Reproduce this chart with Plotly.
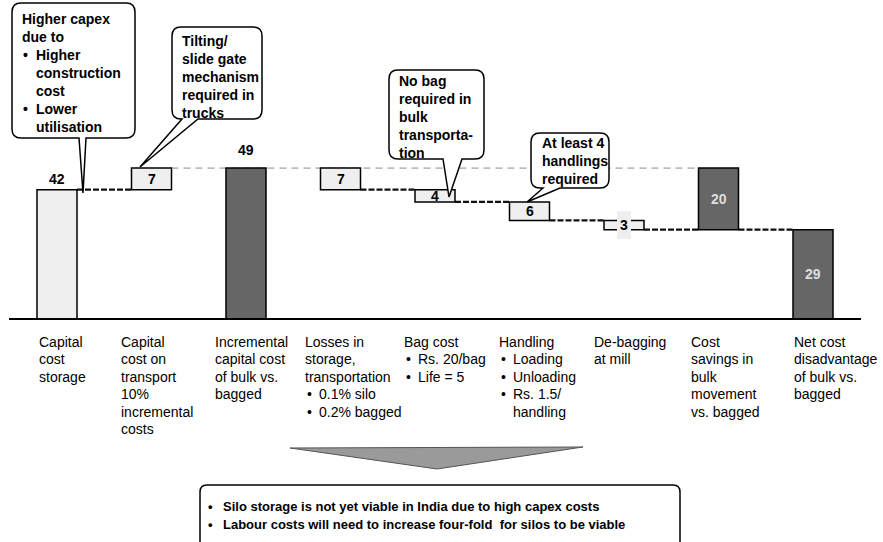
import plotly.graph_objects as go

W, H = 883, 542
FONT = "Liberation Sans, Arial, sans-serif"

# ---------------- data ----------------
categories = ["Capital cost storage", "Capital cost on transport", "Incremental capital cost",
              "Losses in storage", "Bag cost", "Handling", "De-bagging", "Cost savings", "Net cost"]
values = [42, 7, 49, -7, -4, -6, -3, 20, 29]
kinds = ["total", "delta", "total", "delta", "delta", "delta", "delta", "span", "total"]
shade = ["light", "light", "dark", "light", "light", "light", "light", "dark", "dark"]

axis_labels = [
    ["Capital", "cost", "storage"],
    ["Capital", "cost on", "transport", "10%", "incremental", "costs"],
    ["Incremental", "capital cost", "of bulk vs.", "bagged"],
    ["Losses in", "storage,", "transportation", "• 0.1% silo", "• 0.2% bagged"],
    ["Bag cost", "• Rs. 20/bag", "• Life = 5"],
    ["Handling", "• Loading", "• Unloading", "• Rs. 1.5/", "> handling"],
    ["De-bagging", "at mill"],
    ["Cost", "savings in", "bulk", "movement", "vs. bagged"],
    ["Net cost", "disadvantage", "of bulk vs.", "bagged"],
]
callout_texts = [
    ["Higher capex", "due to", "• Higher", "> construction", "> cost", "• Lower", "> utilisation"],
    ["Tilting/", "slide gate", "mechanism", "required in", "trucks"],
    ["No bag", "required in", "bulk", "transporta-", "tion"],
    ["At least 4", "handlings", "required"],
]
conclusions = ["Silo storage is not yet viable in India due to high capex costs",
               "Labour costs will need to increase four-fold\u00a0 for silos to be viable"]

# ---------------- layout constants ----------------
K = 3.08           # px per unit
BASE_PY = 319      # baseline pixel row
bar_cx0, bar_step, bar_w = 57, 94.5, 40
label_x = [38, 120, 214, 304, 403, 498, 593, 690, 793]
total_label_shift = {0: 2, 2: 9}
LIGHT, DARK = "#efefef", "#666666"

n = len(values)
cx = [bar_cx0 + bar_step * i for i in range(n)]

# waterfall geometry
bases, heights, level_after = [], [], []
level = 0
for v, k in zip(values, kinds):
    if k == "total":
        bases.append(0); heights.append(v); level = v
    elif k == "delta":
        if v >= 0:
            bases.append(level); heights.append(v)
        else:
            bases.append(level + v); heights.append(-v)
        level = level + v
    else:  # span above current level
        bases.append(level); heights.append(v)
    level_after.append(level)
peak = max(level_after)

colors = [LIGHT if s == "light" else DARK for s in shade]

fig = go.Figure()
fig.add_trace(go.Bar(x=cx, y=heights, base=bases, width=[bar_w] * n,
                     marker=dict(color=colors, line=dict(color="black", width=1.5)),
                     hoverinfo="skip", showlegend=False))

shapes, annotations = [], []


def px2x(px):
    return px / W


def py2y(py):
    return 1 - py / H


def txt(px, py, s, size, bold=False, color="black", anchor="left"):
    annotations.append(dict(x=px2x(px), y=py2y(py), xref="paper", yref="paper",
                            text=("<b>%s</b>" % s if bold else s), showarrow=False,
                            xanchor=anchor, yanchor="middle", borderpad=0,
                            font=dict(family=FONT, size=size, color=color)))


def text_line(x, y, line, size, bold, bdx, idx):
    if line.startswith("• "):
        txt(x + bdx, y, "•", size, bold)
        txt(x + idx, y, line[2:], size, bold)
    elif line.startswith("> "):
        txt(x + idx, y, line[2:], size, bold)
    else:
        txt(x, y, line, size, bold)


# baseline
shapes.append(dict(type="line", xref="x", yref="y", x0=9, x1=861, y0=0, y1=0,
                   line=dict(color="black", width=2), layer="above"))

# thin dashed line at peak level
i_first_peak = level_after.index(peak)
i_span = kinds.index("span")
shapes.append(dict(type="line", xref="x", yref="y",
                   x0=cx[i_first_peak] + bar_w / 2, x1=cx[i_span] - bar_w / 2, y0=peak, y1=peak,
                   line=dict(color="#8a8a8a", width=1, dash="7px,5px"), layer="below"))

# thick connectors
for i in range(n - 1):
    if level_after[i] >= peak:
        continue
    shapes.append(dict(type="line", xref="x", yref="y",
                       x0=cx[i] + bar_w / 2, x1=cx[i + 1] - bar_w / 2,
                       y0=level_after[i], y1=level_after[i],
                       line=dict(color="#111111", width=2.2, dash="6px,2px"), layer="below"))

# background behind the small "3" label
i3 = 6
mid3 = bases[i3] + heights[i3] / 2
shapes.append(dict(type="rect", xref="x", yref="y", x0=cx[i3] - 7, x1=cx[i3] + 7,
                   y0=mid3 - 4.5, y1=mid3 + 4.5, fillcolor="#eeeeee",
                   line=dict(width=0), layer="above"))

# bar value labels
for i in range(n):
    v = abs(values[i])
    if kinds[i] == "total" and shade[i] == "light" or (kinds[i] == "total" and i in total_label_shift):
        annotations.append(dict(x=cx[i], y=bases[i] + heights[i], xref="x", yref="y",
                                text="<b>%d</b>" % v, showarrow=False, yanchor="bottom",
                                yshift=total_label_shift.get(i, 2), borderpad=0,
                                font=dict(family=FONT, size=14, color="black")))
    else:
        col = "#dddddd" if shade[i] == "dark" else "black"
        annotations.append(dict(x=cx[i], y=bases[i] + heights[i] / 2, xref="x", yref="y",
                                text="<b>%d</b>" % v, showarrow=False, yanchor="middle",
                                borderpad=0, font=dict(family=FONT, size=14, color=col)))

# category labels
for i, lines in enumerate(axis_labels):
    for j, line in enumerate(lines):
        text_line(label_x[i], 342 + 17.4 * j, line, 14, False, 2, 14)


# callouts
def callout_path(x0, y0, x1, y1, r, p0, p1, tip):
    X = px2x
    Y = py2y
    tx, ty = tip
    pts = [
        "M %f,%f" % (X(x0 + r), Y(y0)),
        "L %f,%f" % (X(x1 - r), Y(y0)),
        "Q %f,%f %f,%f" % (X(x1), Y(y0), X(x1), Y(y0 + r)),
        "L %f,%f" % (X(x1), Y(y1 - r)),
        "Q %f,%f %f,%f" % (X(x1), Y(y1), X(x1 - r), Y(y1)),
        "L %f,%f" % (X(p1), Y(y1)),
        "L %f,%f" % (X(tx), Y(ty)),
        "L %f,%f" % (X(p0), Y(y1)),
        "L %f,%f" % (X(x0 + r), Y(y1)),
        "Q %f,%f %f,%f" % (X(x0), Y(y1), X(x0), Y(y1 - r)),
        "L %f,%f" % (X(x0), Y(y0 + r)),
        "Q %f,%f %f,%f" % (X(x0), Y(y0), X(x0 + r), Y(y0)),
        "Z",
    ]
    return " ".join(pts)


callout_geom = [
    dict(box=(12, 3, 135, 138), ptr=(79, 86), tip=(83, 193), tx=21, ty0=19),
    dict(box=(172, 27, 262, 119), ptr=(182, 198), tip=(140, 167), tx=181, ty0=41),
    dict(box=(389, 70, 484, 159), ptr=(443, 462), tip=(449, 197), tx=398, ty0=81),
    dict(box=(531, 133, 609, 188), ptr=(543, 560), tip=(527, 202), tx=541, ty0=143),
]
for g, lines in zip(callout_geom, callout_texts):
    x0, y0, x1, y1 = g["box"]
    shapes.append(dict(type="path", xref="paper", yref="paper",
                       path=callout_path(x0, y0, x1, y1, 9, g["ptr"][0], g["ptr"][1], g["tip"]),
                       fillcolor="white", line=dict(color="black", width=1.5), layer="above"))
    for j, line in enumerate(lines):
        text_line(g["tx"], g["ty0"] + 18 * j, line, 14, True, 1, 14)

# chevron
X, Y = px2x, py2y
shapes.append(dict(type="path", xref="paper", yref="paper",
                   path="M %f,%f L %f,%f L %f,%f Z" % (X(290), Y(448), X(583), Y(447), X(437), Y(469)),
                   fillcolor="#9a9a9a", line=dict(color="#555555", width=1), layer="above"))

# conclusion box
shapes.append(dict(type="path", xref="paper", yref="paper",
                   path=("M %f,%f L %f,%f Q %f,%f %f,%f L %f,%f Q %f,%f %f,%f L %f,%f"
                         % (X(200), Y(600), X(200), Y(492), X(200), Y(485), X(207), Y(485),
                            X(673), Y(485), X(680), Y(485), X(680), Y(492), X(680), Y(600))),
                   fillcolor="white", line=dict(color="black", width=1.5), layer="above"))
for j, line in enumerate(conclusions):
    txt(207, 506 + 18 * j, "•", 13, True)
    txt(222, 506 + 18 * j, line, 13, True)

fig.update_layout(
    width=W, height=H, margin=dict(l=0, r=0, t=0, b=0),
    paper_bgcolor="white", plot_bgcolor="white", showlegend=False,
    xaxis=dict(range=[0, W], visible=False, fixedrange=True),
    yaxis=dict(range=[-(H - BASE_PY) / K, BASE_PY / K], visible=False, fixedrange=True),
    shapes=shapes, annotations=annotations,
)
fig.write_html("out.html")
